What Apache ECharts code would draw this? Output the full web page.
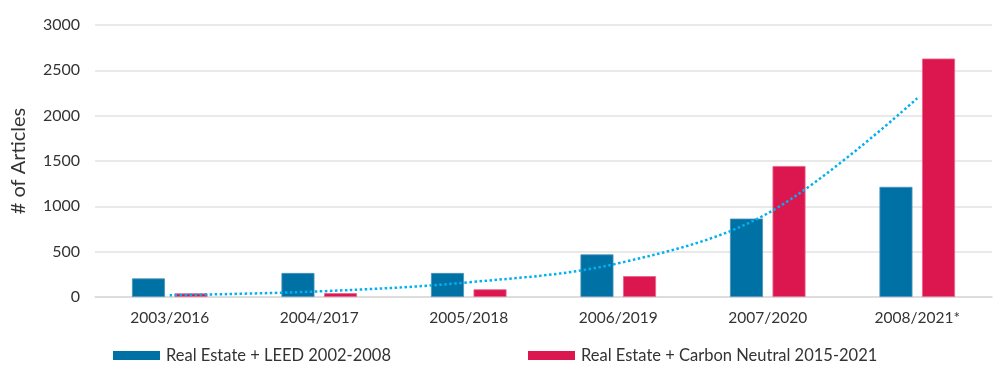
<!DOCTYPE html>
<html>
<head>
<meta charset="utf-8">
<title># of Articles</title>
<script src="https://cdn.jsdelivr.net/npm/echarts@6/dist/echarts.min.js"></script>
<style>
  html, body { margin: 0; padding: 0; background: #fff; }
  #chart { width: 1000px; height: 375px; }
</style>
</head>
<body>
<div id="chart"></div>
<script>
// categories (LEED year / carbon neutral year)
const categories = ['2003/2016', '2004/2017', '2005/2018', '2006/2019', '2007/2020', '2008/2021*'];

// article counts
const leedValues = [205, 265, 265, 470, 865, 1215];
const carbonValues = [40, 42, 85, 230, 1445, 2630];

// exponential trendline
const trendValues = [20, 62, 162, 372, 923, 2192];

const yTicks = { min: 0, max: 3000, interval: 500 };

const FONT = 'Lato, "Open Sans", sans-serif';
const BLUE = '#0071a4';
const RED = '#dc1750';

const chart = echarts.init(document.getElementById('chart'));

const legendBase = {
  bottom: 11,
  padding: 0,
  icon: 'rect',
  itemWidth: 47,
  itemHeight: 9,
  itemGap: 6,
  itemStyle: { borderWidth: 0 },
  textStyle: { fontSize: 16.5, color: '#333', fontFamily: FONT, padding: [0, 0, 0, 1] }
};

chart.setOption({
  animation: false,
  textStyle: { fontFamily: FONT },
  grid: { left: 95, right: 8, top: 25, bottom: 78 },
  legend: [
    Object.assign({}, legendBase, { data: ['Real Estate + LEED 2002-2008'], left: 113 }),
    Object.assign({}, legendBase, { data: ['Real Estate + Carbon Neutral 2015-2021'], left: 528 })
  ],
  xAxis: {
    type: 'category',
    data: categories,
    axisTick: { show: false },
    axisLine: { lineStyle: { color: '#d9d9d9', width: 1.5 } },
    axisLabel: { color: '#333', fontSize: 15.5, margin: 13 }
  },
  yAxis: {
    type: 'value',
    min: yTicks.min,
    max: yTicks.max,
    interval: yTicks.interval,
    name: '# of Articles',
    nameLocation: 'middle',
    nameGap: 66,
    nameTextStyle: { fontSize: 20, color: '#333' },
    axisLine: { show: false },
    axisTick: { show: false },
    axisLabel: { color: '#333', fontSize: 16, margin: 15, formatter: v => String(v) },
    splitLine: { lineStyle: { color: '#e2e2e2', width: 1.5 } }
  },
  series: [
    {
      name: 'Real Estate + LEED 2002-2008',
      type: 'bar',
      data: leedValues,
      barWidth: 33,
      barGap: '29%',
      itemStyle: { color: BLUE, borderColor: '#4d93ba', borderWidth: 0.8 }
    },
    {
      name: 'Real Estate + Carbon Neutral 2015-2021',
      type: 'bar',
      data: carbonValues,
      barWidth: 33,
      itemStyle: { color: RED, borderColor: '#e8658a', borderWidth: 0.8 }
    },
    {
      name: 'Trend',
      type: 'line',
      data: trendValues,
      smooth: 0.35,
      symbol: 'none',
      z: 5,
      lineStyle: { color: '#00b0f0', width: 2.5, type: [2.5, 2.5] }
    }
  ]
});
</script>
</body>
</html>
